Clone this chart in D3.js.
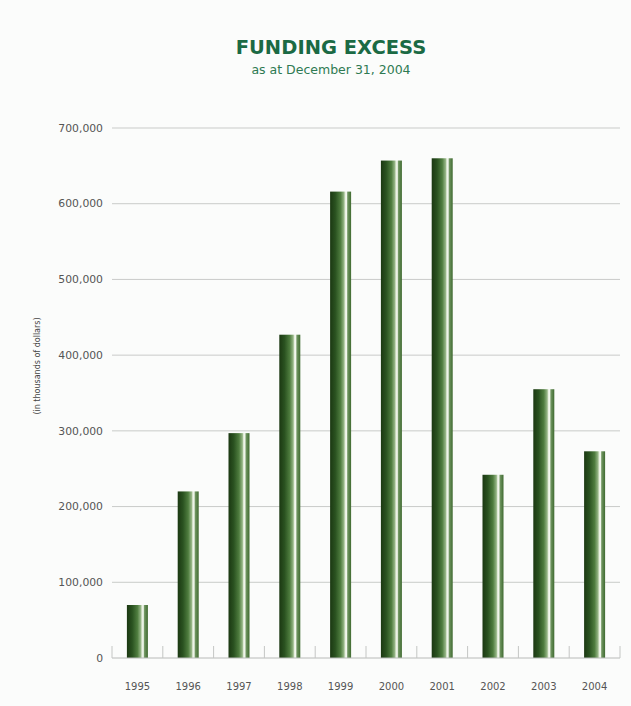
<!DOCTYPE html>
<html>
<head>
<meta charset="utf-8">
<script src="https://cdn.jsdelivr.net/npm/d3@7/dist/d3.min.js"></script>
<style>
  html, body { margin: 0; padding: 0; background: #fbfcfb; }
  svg { display: block; }
</style>
</head>
<body>
<script>
// Funding excess by year, in thousands of dollars
const years = ["1995", "1996", "1997", "1998", "1999", "2000", "2001", "2002", "2003", "2004"];
const excess = [70000, 220000, 297000, 427000, 616000, 657000, 660000, 242000, 355000, 273000];
const yTicks = [0, 100000, 200000, 300000, 400000, 500000, 600000, 700000];

const W = 631, H = 706;
const margin = { left: 112, right: 11, top: 128, bottom: 48 };

const svg = d3.select("body").append("svg")
  .attr("width", W).attr("height", H);

svg.append("rect").attr("width", W).attr("height", H).attr("fill", "#fbfcfb");

// Cylindrical green shading for the bars
const grad = svg.append("defs").append("linearGradient")
  .attr("id", "barGrad").attr("x1", "0%").attr("x2", "100%").attr("y1", "0%").attr("y2", "0%");
[
  [0, "#1b3812"], [0.25, "#2a5220"], [0.5, "#4f7d3f"], [0.66, "#95b585"],
  [0.72, "#e6efde"], [0.78, "#f4f8f0"], [0.84, "#6f9560"], [1, "#3f6a30"]
].forEach(([o, c]) => grad.append("stop").attr("offset", o).attr("stop-color", c));

const x = d3.scaleBand().domain(years)
  .range([margin.left, W - margin.right]).paddingInner(0).paddingOuter(0);
const y = d3.scaleLinear().domain([0, 700000]).range([H - margin.bottom, margin.top]);

const fmt = d3.format(",");
const font = "Verdana, DejaVu Sans, sans-serif";

// Horizontal gridlines and value labels
const yAxis = svg.append("g");
yAxis.selectAll("line.grid").data(yTicks.filter(d => d > 0)).join("line")
  .attr("class", "grid")
  .attr("x1", margin.left).attr("x2", W - margin.right)
  .attr("y1", d => y(d)).attr("y2", d => y(d))
  .attr("stroke", "#c9cbc9").attr("stroke-width", 1);
yAxis.selectAll("text").data(yTicks).join("text")
  .attr("x", 103).attr("y", d => y(d)).attr("dy", "0.35em")
  .attr("text-anchor", "end")
  .attr("font-family", font)
  .attr("font-size", 10.8).attr("fill", "#555")
  .text(d => fmt(d));

// Bars
const barW = 21;
svg.selectAll("rect.bar").data(years).join("rect")
  .attr("class", "bar")
  .attr("x", d => x(d) + (x.bandwidth() - barW) / 2)
  .attr("y", (d, i) => y(excess[i]))
  .attr("width", barW)
  .attr("height", (d, i) => y(0) - y(excess[i]))
  .attr("fill", "url(#barGrad)");

// Baseline and category separators
const base = y(0);
svg.append("line")
  .attr("x1", margin.left).attr("x2", W - margin.right)
  .attr("y1", base).attr("y2", base)
  .attr("stroke", "#b8bab8").attr("stroke-width", 1);
const seps = years.map(d => x(d)).concat([x(years[years.length - 1]) + x.bandwidth()]);
svg.selectAll("line.sep").data(seps).join("line")
  .attr("class", "sep")
  .attr("x1", d => d).attr("x2", d => d)
  .attr("y1", base - 12).attr("y2", base)
  .attr("stroke", "#c4c6c4").attr("stroke-width", 1);

// Year labels
svg.selectAll("text.year").data(years).join("text")
  .attr("class", "year")
  .attr("x", d => x(d) + x.bandwidth() / 2).attr("y", 690)
  .attr("text-anchor", "middle")
  .attr("font-family", font)
  .attr("font-size", 10).attr("fill", "#555")
  .text(d => d);

// Titles
svg.append("text")
  .attr("x", 331).attr("y", 54).attr("text-anchor", "middle")
  .attr("font-family", font)
  .attr("font-weight", "bold").attr("font-size", 19.5).attr("fill", "#1b6a44")
  .text("FUNDING EXCESS");
svg.append("text")
  .attr("x", 331).attr("y", 74).attr("text-anchor", "middle")
  .attr("font-family", font)
  .attr("font-size", 12.5).attr("fill", "#2e7a52")
  .text("as at December 31, 2004");

// Vertical unit label
svg.append("text")
  .attr("transform", "translate(40,366) rotate(-90)")
  .attr("text-anchor", "middle")
  .attr("font-family", font)
  .attr("font-size", 8).attr("fill", "#444")
  .text("(in thousands of dollars)");
</script>
</body>
</html>
